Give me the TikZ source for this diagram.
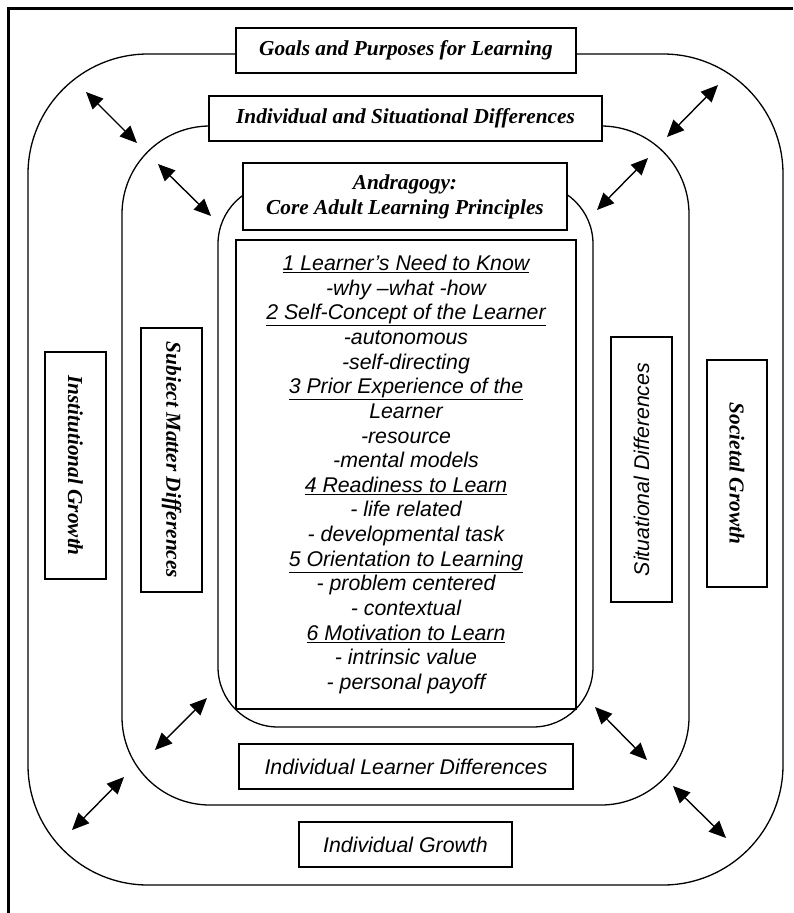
\documentclass[tikz,border=0pt]{standalone}
\usepackage{fontspec}
\setmainfont{Liberation Serif}
\newfontfamily\helvfont{Liberation Sans}
\usetikzlibrary{arrows.meta}
\newcommand\corefont{\fontsize{21.3}{24.65}\selectfont\helvfont\itshape\setlength{\lineskiplimit}{-50pt}}

\begin{document}
\begin{tikzpicture}[
  x=1pt, y=-1pt,
  ring/.style={draw, line width=1.3pt},
  tagbox/.style={draw, line width=1.4pt, fill=white, inner sep=0pt, align=center,
                 font=\fontsize{21.3}{25}\selectfont\bfseries\itshape},
  sansbox/.style={tagbox, font=\fontsize{21.3}{25}\selectfont\helvfont\itshape},
  twoway/.style={{Triangle[length=17pt,width=15pt]}-{Triangle[length=17pt,width=15pt]}, line width=1.4pt}
]
  \useasboundingbox (0,0) rectangle (793,913);

  % ===== Frame (cut at right and bottom) =====
  \draw[line width=3.3pt] (8.5,913) -- (8.5,8.5) -- (793,8.5);

  % ===== Nested rings =====
  \draw[ring, rounded corners=120pt] (28,54) rectangle (783,885);
  \draw[ring, rounded corners=88pt] (122,126) rectangle (689,805);
  \draw[ring, rounded corners=60pt] (218,184) rectangle (593,727);

  % ===== Top labels =====
  \node[tagbox, minimum width=340pt, minimum height=45pt] (goals) at (406,50.5) {Goals and Purposes for Learning};
  \node[tagbox, minimum width=393pt, minimum height=45pt] (indsit) at (405.5,118.5) {Individual and Situational Differences};
  \node[tagbox, minimum width=324pt, minimum height=67pt] (andra) at (405,196.5) {Andragogy:\\Core Adult Learning Principles};

  % ===== Core principles =====
  \node[sansbox, minimum width=340pt, minimum height=469pt, font=\corefont] (core) at (406,474.5) {%
    \underline{1 Learner’s Need to Know}\\
    -why –what -how\\
    \underline{2 Self-Concept of the Learner}\\
    -autonomous\\
    -self-directing\\
    \underline{3 Prior Experience of the}\\
    Learner\\
    -resource\\
    -mental models\\
    \underline{4 Readiness to Learn}\\
    - life related\\
    - developmental task\\
    \underline{5 Orientation to Learning}\\
    - problem centered\\
    - contextual\\
    \underline{6 Motivation to Learn}\\
    - intrinsic value\\
    - personal payoff};

  % ===== Side labels =====
  \node[tagbox, rotate=-90, minimum width=227pt, minimum height=61pt] (inst) at (75.5,465.5) {Institutional Growth};
  \node[tagbox, rotate=-90, minimum width=264pt, minimum height=61pt] (subj) at (171.5,460) {Subiect Matter Differences};
  \node[sansbox, rotate=90, minimum width=265pt, minimum height=61pt] (situ) at (641.5,469.5) {Situational Differences};
  \node[tagbox, rotate=-90, minimum width=227pt, minimum height=60pt] (soc) at (737,473.5) {Societal Growth};

  % ===== Bottom labels =====
  \node[sansbox, minimum width=334pt, minimum height=45pt] (learner) at (406,766.5) {Individual Learner Differences};
  \node[sansbox, minimum width=213pt, minimum height=45pt] (growth) at (405.5,844.5) {Individual Growth};

  % ===== Two-way arrows between rings =====
  \coordinate (tlo1) at (86,92);   \coordinate (tlo2) at (137,143);
  \coordinate (tli1) at (158,164); \coordinate (tli2) at (211,216);
  \coordinate (tro1) at (667,137); \coordinate (tro2) at (718,85);
  \coordinate (tri1) at (597,210); \coordinate (tri2) at (648,158);
  \coordinate (bli1) at (155,750); \coordinate (bli2) at (207,698);
  \coordinate (blo1) at (72,830);  \coordinate (blo2) at (124,777);
  \coordinate (bri1) at (595,707); \coordinate (bri2) at (647,760);
  \coordinate (bro1) at (673,786); \coordinate (bro2) at (726,838);
  \foreach \a in {tlo, tli, tro, tri, bli, blo, bri, bro}
    \draw[twoway] (\a1) -- (\a2);
\end{tikzpicture}
\end{document}
